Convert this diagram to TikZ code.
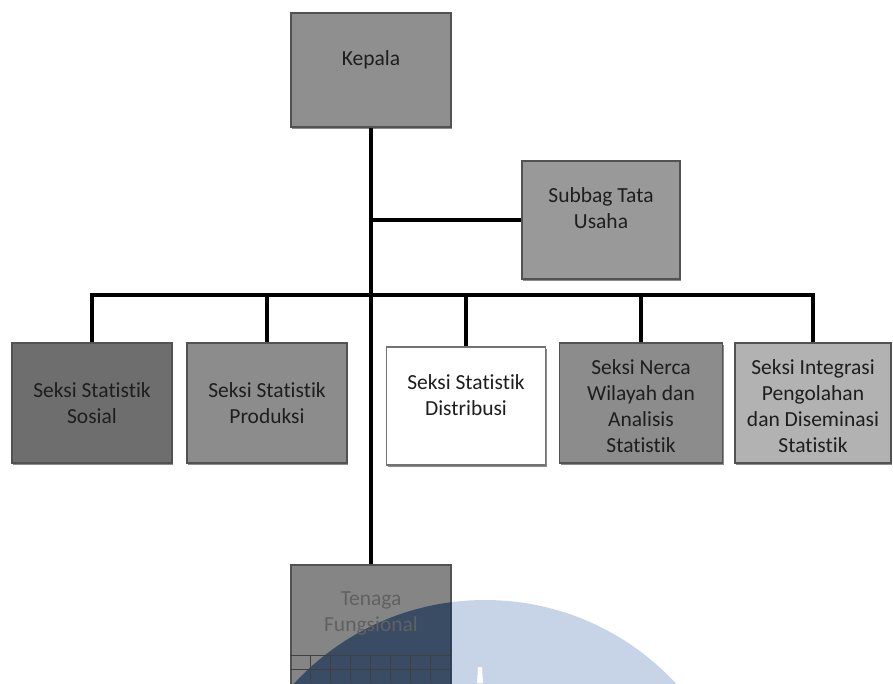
\documentclass[tikz,border=0pt]{standalone}
\usepackage{fontspec}
\setmainfont{Carlito}[Ligatures=NoCommon]
\usetikzlibrary{calc}
\definecolor{wm}{HTML}{C7D4E7}
\definecolor{wmdark}{HTML}{1E3658}
\definecolor{txt}{HTML}{1E1E1E}
\begin{document}
\begin{tikzpicture}[x=1pt,y=-1pt,
  orgbox/.style={draw=black!68, line width=1.4pt, inner sep=0pt,
    preaction={fill=black!45, transform canvas={xshift=1.2pt,yshift=-2.2pt}}},
  lbl/.style={font=\fontsize{21.5}{26}\selectfont, text=txt, align=center, inner sep=0pt},
  conn/.style={draw=black, line width=3.2pt},
  gridline/.style={draw=black!75, line width=0.9pt}]
\useasboundingbox (0,0) rectangle (893,683);
\fill[white] (0,0) rectangle (893,683);
\begin{scope}
\clip (0,0) rectangle (893,683);
% watermark (light part)
\fill[wm] (485,860) circle[radius=260pt];
\fill[white] (478,667) -- (482,667) -- (483,683) -- (477,683) -- cycle;

% boxes
\node[orgbox, fill=black!44, minimum width=160pt, minimum height=114pt] (kepala) at (371,70) {};
\node[orgbox, fill=black!40, minimum width=158pt, minimum height=118pt] (subbag) at (601,220) {};
\node[orgbox, fill=black!57, minimum width=160pt, minimum height=120pt] (sosial) at (92,403) {};
\node[orgbox, fill=black!45, minimum width=160pt, minimum height=120pt] (produksi) at (267,403) {};
\node[orgbox, fill=white, draw=black!55, minimum width=159pt, minimum height=118pt] (distribusi) at (466,406) {};
\node[orgbox, fill=black!45, minimum width=163pt, minimum height=120pt] (nerca) at (641,403) {};
\node[orgbox, fill=black!30, minimum width=156pt, minimum height=120pt] (integrasi) at (813,403) {};
\node[orgbox, fill=black!48, minimum width=160pt, minimum height=140pt] (tenaga) at (371,635) {};

% watermark over the Tenaga box
\begin{scope}
\clip (tenaga.south west) rectangle (tenaga.north east);
\fill[wmdark, opacity=0.72] (485,860) circle[radius=260pt];
\end{scope}
% grid at the bottom of Tenaga box
\draw[gridline] (tenaga.west |- 0,655) -- (tenaga.east |- 0,655);
\draw[gridline] (tenaga.west |- 0,669) -- (tenaga.east |- 0,669);
\foreach \k in {1,...,7} {
  \draw[gridline] ($(tenaga.west |- 0,655)+(20*\k,0)$) -- ($(tenaga.west |- 0,683)+(20*\k,0)$);
}

% labels
\node[lbl] (kepalaT) at ($(kepala.center)+(0,-10)$) {Kepala};
\node[lbl] (subbagT) at ($(subbag.center)+(0,-12)$) {Subbag Tata\\Usaha};
\node[lbl] (sosialT) at (sosial.center) {Seksi Statistik\\Sosial};
\node[lbl] (produksiT) at (produksi.center) {Seksi Statistik\\Produksi};
\node[lbl] (distribusiT) at ($(distribusi.center)+(0,-11)$) {Seksi Statistik\\Distribusi};
\node[lbl] (nercaT) at ($(nerca.center)+(0,3)$) {Seksi Nerca\\Wilayah dan\\Analisis\\Statistik};
\node[lbl] (integrasiT) at ($(integrasi.center)+(0,3)$) {Seksi Integrasi\\Pengolahan\\dan Diseminasi\\Statistik};
\node[lbl, text=black!62] (tenagaT) at ($(tenaga.center)+(0,-22)$) {Tenaga\\Fungsional};

% connectors
\coordinate (bar) at (371,295);
\draw[conn] (kepala.south) -- (tenaga.north);
\draw[conn] (kepala.south |- subbag.west) -- (subbag.west);
\draw[conn, line cap=rect] (sosial.north |- bar) -- (integrasi.north |- bar);
\foreach \b in {sosial,produksi,distribusi,nerca,integrasi} {
  \draw[conn] (\b.north |- bar) -- (\b.north);
}
\end{scope}
\end{tikzpicture}
\end{document}
